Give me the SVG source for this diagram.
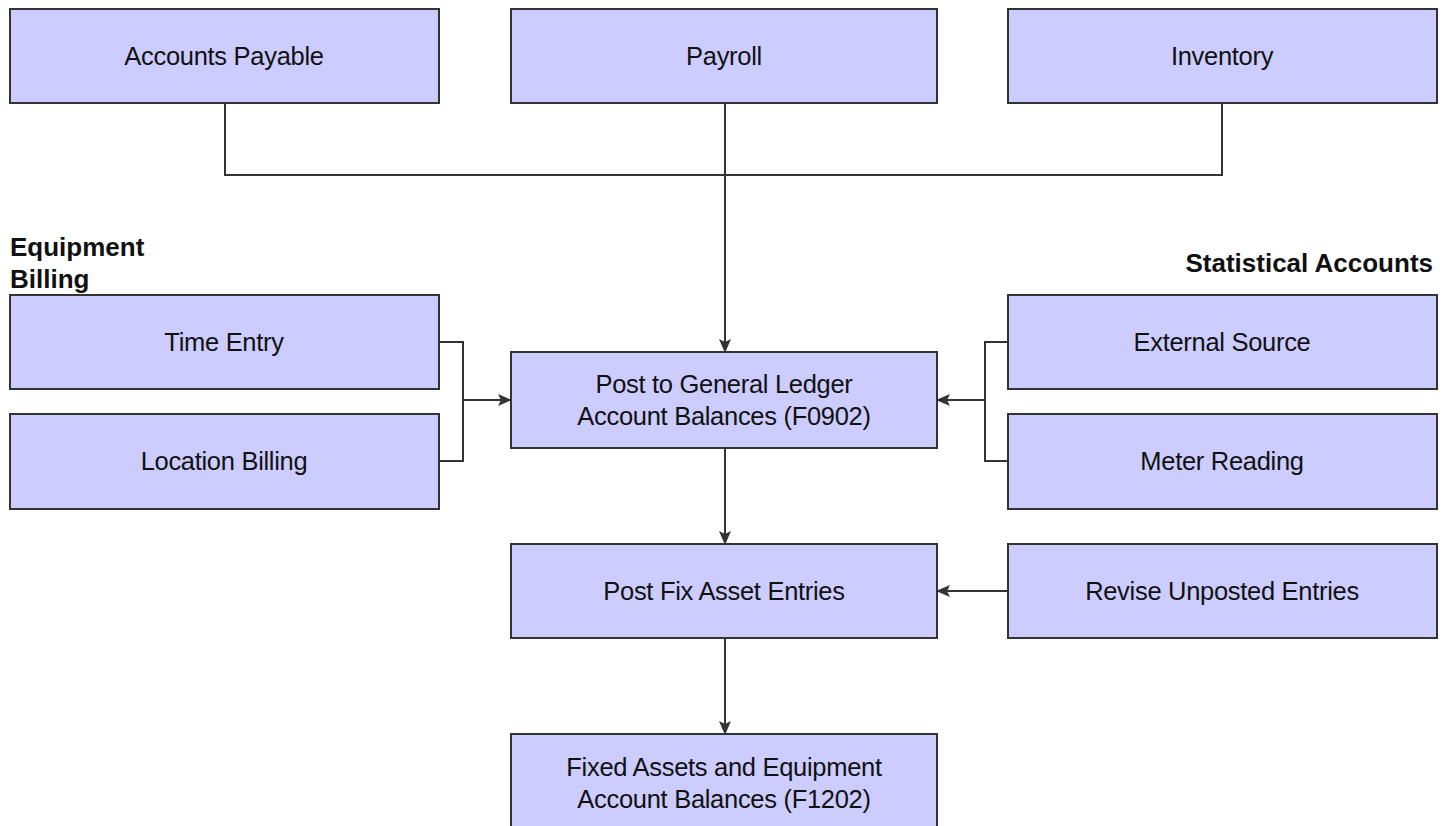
<svg xmlns="http://www.w3.org/2000/svg" width="1445" height="826" viewBox="0 0 1445 826">
<defs>
<style>
.box{fill:#ccccff;stroke:#333333;stroke-width:2}
.t{font-family:"Liberation Sans",Arial,sans-serif;font-size:25.5px;fill:#111111;text-anchor:middle;letter-spacing:-0.3px}
.h{font-family:"Liberation Sans",Arial,sans-serif;font-size:26px;font-weight:bold;fill:#111111}
.c{fill:none;stroke:#333333;stroke-width:2}
</style>
<marker id="ar" markerWidth="14" markerHeight="12" refX="13" refY="6" orient="auto" markerUnits="userSpaceOnUse">
<path d="M0,0 L14,6 L0,12 L3,6 Z" fill="#333333"/>
</marker>
</defs>
<rect width="1445" height="826" fill="#ffffff"/>
<g id="connectors">
<path class="c" d="M225,103 V175 H1222 V103"/>
<path class="c" d="M725,103 V352" marker-end="url(#ar)"/>
<path class="c" d="M439,342 H463 V461 H439"/>
<path class="c" d="M463,400 H511" marker-end="url(#ar)"/>
<path class="c" d="M1008,342 H985 V461 H1008"/>
<path class="c" d="M985,400 H937" marker-end="url(#ar)"/>
<path class="c" d="M725,448 V544" marker-end="url(#ar)"/>
<path class="c" d="M725,638 V734" marker-end="url(#ar)"/>
<path class="c" d="M1008,591 H937" marker-end="url(#ar)"/>
</g>
<g id="accounts-payable"><rect class="box" x="10" y="9" width="429" height="94"/><text class="t" x="224" y="65">Accounts Payable</text></g>
<g id="payroll"><rect class="box" x="511" y="9" width="426" height="94"/><text class="t" x="724" y="65">Payroll</text></g>
<g id="inventory"><rect class="box" x="1008" y="9" width="429" height="94"/><text class="t" x="1222" y="65">Inventory</text></g>
<g id="equipment-billing-label"><text class="h" x="10" y="256">Equipment</text><text class="h" x="10" y="288">Billing</text></g>
<g id="statistical-accounts-label"><text class="h" x="1433" y="272" text-anchor="end">Statistical Accounts</text></g>
<g id="time-entry"><rect class="box" x="10" y="295" width="429" height="94"/><text class="t" x="224" y="351">Time Entry</text></g>
<g id="location-billing"><rect class="box" x="10" y="414" width="429" height="95"/><text class="t" x="224" y="470">Location Billing</text></g>
<g id="post-gl"><rect class="box" x="511" y="352" width="426" height="96"/><text class="t" x="724" y="393">Post to General Ledger</text><text class="t" x="724" y="425">Account Balances (F0902)</text></g>
<g id="external-source"><rect class="box" x="1008" y="295" width="429" height="94"/><text class="t" x="1222" y="351">External Source</text></g>
<g id="meter-reading"><rect class="box" x="1008" y="414" width="429" height="95"/><text class="t" x="1222" y="470">Meter Reading</text></g>
<g id="post-fix-asset"><rect class="box" x="511" y="544" width="426" height="94"/><text class="t" x="724" y="600">Post Fix Asset Entries</text></g>
<g id="revise-unposted"><rect class="box" x="1008" y="544" width="429" height="94"/><text class="t" x="1222" y="600">Revise Unposted Entries</text></g>
<g id="fixed-assets"><rect class="box" x="511" y="734" width="426" height="100"/><text class="t" x="724" y="776">Fixed Assets and Equipment</text><text class="t" x="724" y="808">Account Balances (F1202)</text></g>
</svg>
